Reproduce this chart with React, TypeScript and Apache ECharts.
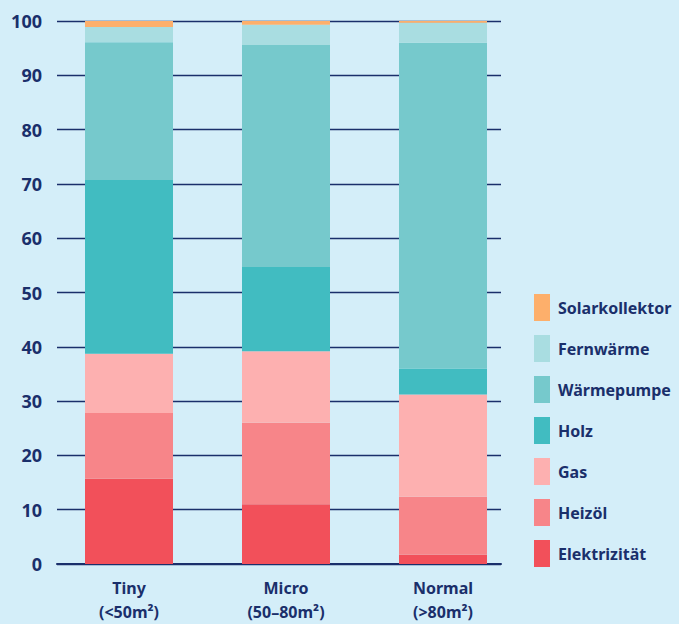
import React, { useEffect, useRef } from "react";
import * as echarts from "echarts";

const categories = ["Tiny\n(<50m²)", "Micro\n(50–80m²)", "Normal\n(>80m²)"];
const seriesNames = ["Elektrizität", "Heizöl", "Gas", "Holz", "Wärmepumpe", "Fernwärme", "Solarkollektor"];
const elektrizitaet = [15.7, 11.0, 1.7];
const heizoel = [12.1, 15.0, 10.7];
const gas = [10.9, 13.2, 18.8];
const holz = [32.0, 15.5, 4.8];
const waermepumpe = [25.4, 40.9, 60.0];
const fernwaerme = [2.8, 3.7, 3.7];
const solarkollektor = [1.1, 0.7, 0.3];
const yTicks = [0, 10, 20, 30, 40, 50, 60, 70, 80, 90, 100];

const colors = ["#F2505A", "#F78589", "#FDB0B0", "#41BCC1", "#76C9CC", "#A9DDE1", "#FDAF6B"];
const navy = "#1a2f6b";
const font = "Noto Sans";

export default function App() {
  const ref = useRef<HTMLDivElement>(null);
  useEffect(() => {
    if (!ref.current) return;
    const chart = echarts.init(ref.current, null, { renderer: "svg" });
    const values = [elektrizitaet, heizoel, gas, holz, waermepumpe, fernwaerme, solarkollektor];
    chart.setOption({
      animation: false,
      backgroundColor: "#D4EEF9",
      textStyle: { fontFamily: font },
      grid: [
        { left: 57, right: 178, top: 21, bottom: 60, outerBoundsMode: "none", containLabel: false },
        { left: 50.5, right: 157.5, top: 21, bottom: 60, outerBoundsMode: "none", containLabel: false },
      ],
      xAxis: [
        {
          gridIndex: 0,
          type: "value",
          min: 0,
          max: 1,
          axisLabel: { show: false },
          axisTick: { show: false },
          splitLine: { show: false },
          axisLine: { show: true, onZero: false, lineStyle: { color: navy, width: 2 } },
        },
        {
          gridIndex: 1,
          type: "category",
          data: categories,
          axisLine: { show: false },
          axisTick: { show: false },
          axisLabel: {
            margin: 12,
            color: navy,
            fontFamily: font,
            fontWeight: "bold",
            fontSize: 16,
            lineHeight: 24,
          },
        },
      ],
      yAxis: [
        {
          gridIndex: 0,
          type: "value",
          min: yTicks[0],
          max: yTicks[yTicks.length - 1],
          interval: 10,
          axisLine: { show: false },
          axisTick: { show: false },
          axisLabel: { margin: 15, color: navy, fontFamily: font, fontWeight: "bold", fontSize: 18 },
          splitLine: { show: true, lineStyle: { color: navy, width: 1.3 } },
        },
        {
          gridIndex: 1,
          type: "value",
          min: 0,
          max: 100,
          show: false,
          splitLine: { show: false },
        },
      ],
      legend: {
        orient: "vertical",
        left: 534,
        top: 294,
        padding: 0,
        itemWidth: 16,
        itemHeight: 27,
        itemGap: 14,
        icon: "rect",
        data: [...seriesNames].reverse(),
        textStyle: { color: navy, fontFamily: font, fontWeight: "bold", fontSize: 16, padding: [0, 0, 0, 3] },
      },
      series: seriesNames.map((name, i) => ({
        name,
        type: "bar",
        stack: "total",
        xAxisIndex: 1,
        yAxisIndex: 1,
        barWidth: 88,
        itemStyle: { color: colors[i] },
        emphasis: { disabled: true },
        data: values[i],
      })),
    });
    return () => chart.dispose();
  }, []);
  return (
    <div
      ref={ref}
      style={{ position: "fixed", left: 0, top: 0, width: 679, height: 624, background: "#D4EEF9" }}
    />
  );
}
